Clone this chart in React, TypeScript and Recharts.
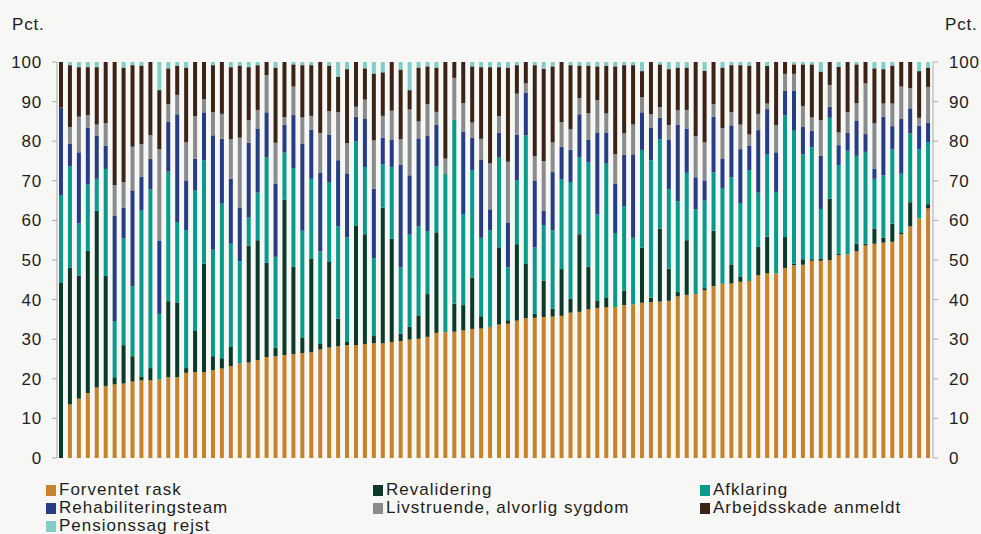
import { Bar, BarChart, XAxis, YAxis } from 'recharts'

const forventetRask = [
  0, 13.5, 15, 16.4, 17.8, 18.2, 18.6, 18.8, 19.3, 19.6, 19.6, 19.8,
  20.4, 20.4, 21.5, 21.7, 21.7, 22.2, 22.6, 23.2, 23.9, 24.1, 24.7, 25.5,
  25.7, 26, 26.2, 26.5, 26.7, 27.4, 27.9, 28.2, 28.5, 28.5, 28.8, 29, 29,
  29.3, 29.5, 29.9, 30.1, 30.6, 31.6, 31.8, 31.9, 32.2, 32.6, 32.7, 33.1,
  33.7, 33.9, 34.7, 35.3, 35.4, 35.6, 35.7, 35.9, 36.7, 36.9, 37.6, 37.9,
  38.1, 38.1, 38.6, 38.8, 39.2, 39.4, 39.5, 39.7, 40.8, 41.2, 41.4, 42.4,
  43.4, 44, 44.1, 44.5, 44.7, 46.2, 46.6, 46.6, 48, 48.7, 48.8, 49.8, 49.8,
  50, 51.2, 51.4, 52.2, 53.7, 54.1, 54.4, 54.6, 56.5, 58.5, 60.5, 63,
]

const revalidering = [
  44.2, 34.5, 31, 35.9, 44.6, 27.8, 1.8, 9.7, 6.4, 1, 3.1, 0,
  19.2, 18.9, 1.2, 10.4, 27.4, 3.5, 2.6, 5, 0, 29.5, 30.3, 23.8,
  2.1, 39.2, 22.1, 3.8, 23.7, 1.4, 21.6, 7, 0.8, 30.1, 27.7, 1.8, 34.2,
  26.1, 1.9, 3.2, 5.9, 10.8, 25.4, 0, 7.1, 6.4, 12.9, 3.1, 0,
  19.5, 0.9, 19.3, 13.7, 1, 9.2, 2, 11.8, 3.5, 19.6, 10.7, 1.9,
  2.3, 0, 3.7, 0, 13.9, 1.1, 18.4, 8.1, 1.1, 13.8, 0, 0.5,
  14, 0, 4.8, 1.2, 0, 7.1, 9.3, 0, 7.8, 0.4, 1.4, 0.4, 0.6,
  15.5, 0.3, 0, 1.9, 0.4, 3.8, 1.2, 4.6, 0.5, 6.1, 0, 1.1,
]

const afklaring = [
  22.2, 25.7, 13.2, 16.8, 8.1, 27, 14.2, 27, 17.7, 42, 45.1, 16.6,
  32.7, 20.3, 34.8, 35.4, 26.1, 26.9, 39.1, 25.9, 25.8, 7.1, 12, 26.6,
  23, 11.9, 24.9, 27.1, 20.1, 23.4, 20.2, 23.3, 26.4, 21.3, 17, 19.6, 10.9,
  18.1, 16.7, 23.3, 22.5, 15.9, 16.7, 39.9, 46.4, 23, 27.2, 19.8, 24.4,
  22.8, 13.4, 16.1, 32.5, 16.8, 14, 19.8, 22.7, 29.5, 19.5, 26.3, 21.7,
  34.1, 18.7, 21.3, 16.8, 24.7, 34.7, 22.6, 20.1, 22.9, 17, 21.4, 22.1,
  14.7, 24.2, 22, 18.7, 28, 13.7, 20.7, 20.6, 30.7, 33.7, 26.5, 28.3, 12.5,
  20.4, 22.5, 26.2, 22.2, 23.2, 12.6, 15.8, 18.7, 14.8, 17.4, 17.5, 15.7,
]

const rehabiliteringsteam = [
  22.1, 5.7, 18, 14.3, 10.9, 5.9, 26.6, 7.7, 24.2, 8.4, 7.8, 18.4,
  12.6, 27.2, 12.6, 8.1, 12.1, 28.9, 16.3, 16.4, 13.6, 18.9, 16.1, 11.4,
  18.4, 7.1, 13.4, 22, 12.4, 19.9, 12, 16.7, 16.2, 6.3, 12.1, 17.6, 6.8,
  6.8, 25.9, 15, 22.2, 24, 10.4, 0, 0, 20.8, 8.2, 19.8, 5.3,
  6.2, 11.3, 11.6, 10.8, 16.9, 3.6, 14.7, 8.2, 8.1, 10.8, 5.8, 20.7,
  7.7, 12.4, 13, 21.1, 9.5, 8.3, 5.4, 12.4, 19.4, 11.2, 8.1, 5.1,
  14.1, 7.3, 13.1, 13.6, 6.1, 15.8, 11.5, 10, 6.2, 10, 6.9, 4.1, 13.4,
  2.8, 5, 4.6, 8.8, 4.5, 2.6, 14.8, 5.9, 13.8, 6.3, 5.9, 4.9,
]

const livstruende = [
  0, 4.2, 9, 3.2, 2.8, 5.7, 7.7, 6.5, 11, 8.3, 5.9, 23.2,
  4.5, 4.9, 9.6, 10.7, 3.3, 5.8, 6.3, 10, 17.6, 5.7, 4.8, 9.4,
  10.4, 1.9, 7.2, 6.6, 3.5, 10, 5.9, 12.1, 7.6, 2.5, 4.9, 12.2, 5.5,
  7.4, 6.5, 16.6, 4.3, 8.1, 3.3, 3.9, 10.6, 7.2, 3.8, 5.2, 11.6,
  4.1, 15.3, 10.3, 2.3, 6.1, 12.6, 7.5, 6.2, 5.2, 4.1, 6.7, 8.2,
  4.8, 7.5, 5.4, 7.5, 3.8, 3.3, 2.7, 3.8, 3.6, 4.7, 10.4, 9.6,
  3.2, 7.8, 3.3, 6.2, 2.9, 4.1, 1.4, 6.9, 4.3, 4.2, 5.3, 3.4, 9,
  5.5, 3.2, 5.1, 4.5, 12.8, 11.4, 3.3, 5.7, 8.2, 5.1, 2, 9,
]

const arbejdsskade = [
  11.5, 15.6, 12.5, 12.1, 14.5, 15.4, 31.1, 28.9, 20.6, 19.8, 18.5, 14.9,
  9, 7.4, 18.9, 13.7, 9.4, 11.9, 13.1, 18.2, 18.2, 13.4, 11.3, 3.3,
  19, 13.9, 5.6, 13.2, 12.8, 17.9, 11.5, 9, 18.7, 11.3, 7.9, 16.9, 11,
  12.3, 17.6, 4.9, 13.6, 9.5, 11.2, 24.4, 4, 10.4, 14.2, 18.1, 24.3,
  12.4, 23.8, 7.2, 5.4, 23, 23.3, 19.2, 15.2, 16.2, 8.2, 12, 8.5,
  12.1, 22.2, 17.2, 15, 6.6, 13.2, 10.8, 14.1, 10.8, 10.7, 18.7, 18.1,
  10.6, 15.3, 11.9, 15, 17.4, 13.1, 9.5, 15.9, 3, 2.4, 10.5, 13.4, 12.3,
  5.8, 16.6, 12.7, 9.8, 5.4, 13.9, 8.7, 9.6, 6.2, 6.6, 11.8, 4.9,
]

const pensionssag = [
  0, 0.8, 1.3, 1.3, 1.3, 0, 0, 1.4, 0.8, 0.9, 0, 7.1,
  1.6, 0.9, 1.4, 0, 0, 0.8, 0, 1.3, 0.9, 1.3, 0.8, 0,
  1.4, 0, 0.6, 0.8, 0.8, 0, 0.9, 3.7, 1.8, 0, 1.6, 2.9, 2.6,
  0, 1.9, 7.1, 1.4, 1.1, 1.4, 0, 0, 0, 1.1, 1.3, 1.3,
  1.3, 1.4, 0.8, 0, 0.8, 1.7, 1.1, 0, 0.8, 0.9, 0.9, 1.1,
  0.9, 1.1, 0.8, 0.8, 2.3, 0, 0.6, 1.8, 1.4, 1.4, 0, 2.2,
  0, 1.4, 0.8, 0.8, 0.9, 0, 1, 0, 0, 0.6, 0.6, 0.6, 2.4,
  0, 1.2, 0, 0.6, 0, 1.6, 1.8, 0.9, 0, 0, 2.3, 1.4,
]

const yTicks = [0, 10, 20, 30, 40, 50, 60, 70, 80, 90, 100]

const series = [
  { key: 'forventet', name: 'Forventet rask', values: forventetRask, color: '#c7822b' },
  { key: 'revalidering', name: 'Revalidering', values: revalidering, color: '#0b3b28' },
  { key: 'afklaring', name: 'Afklaring', values: afklaring, color: '#089a8a' },
  { key: 'rehab', name: 'Rehabiliteringsteam', values: rehabiliteringsteam, color: '#263d86' },
  { key: 'livstruende', name: 'Livstruende, alvorlig sygdom', values: livstruende, color: '#898b8d' },
  { key: 'arbejdsskade', name: 'Arbejdsskade anmeldt', values: arbejdsskade, color: '#3b2416' },
  { key: 'pension', name: 'Pensionssag rejst', values: pensionssag, color: '#7fcfc8' },
]

const data = forventetRask.map((_, i) => {
  const row: Record<string, number> = { id: i + 1 }
  series.forEach((s) => {
    row[s.key] = s.values[i]
  })
  return row
})

const textColor = '#1e1e1e'
const axisColor = '#a9a9a9'
const tickStyle = { fontSize: 17, fill: textColor, letterSpacing: 0.8 }

function LegendBlock() {
  return (
    <div
      style={{
        position: 'absolute',
        left: 46,
        top: 481,
        width: 900,
        display: 'grid',
        gridTemplateColumns: '327px 327px 246px',
        fontSize: 17,
        letterSpacing: 1,
        lineHeight: '18px',
        color: textColor,
      }}
    >
      {series.map((s) => (
        <div key={s.key} style={{ display: 'flex', alignItems: 'center' }}>
          <span
            style={{
              display: 'inline-block',
              width: 10,
              height: 11,
              background: s.color,
              marginRight: 3,
            }}
          />
          <span>{s.name}</span>
        </div>
      ))}
    </div>
  )
}

export default function App() {
  return (
    <div
      style={{
        position: 'absolute',
        top: 0,
        left: 0,
        width: 981,
        height: 534,
        background: '#f7f7f5',
        fontFamily: '"Liberation Sans", Arial, sans-serif',
        overflow: 'hidden',
      }}
    >
      <div style={{ position: 'absolute', left: 12, top: 15, fontSize: 17, letterSpacing: 0.8, color: textColor }}>
        Pct.
      </div>
      <div style={{ position: 'absolute', left: 945, top: 15, fontSize: 17, letterSpacing: 0.8, color: textColor }}>
        Pct.
      </div>
      <BarChart
        width={981}
        height={470}
        data={data}
        margin={{ top: 62, right: 0, left: 0, bottom: 12 }}
        barSize={4}
      >
        <XAxis dataKey="id" hide />
        <YAxis
          yAxisId="left"
          orientation="left"
          width={57}
          domain={[0, 100]}
          allowDataOverflow
          ticks={yTicks}
          interval={0}
          tick={tickStyle}
          tickSize={5}
          tickMargin={10}
          axisLine={{ stroke: axisColor }}
          tickLine={{ stroke: axisColor }}
        />
        <YAxis
          yAxisId="right"
          orientation="right"
          width={48}
          domain={[0, 100]}
          allowDataOverflow
          ticks={yTicks}
          interval={0}
          tick={tickStyle}
          tickSize={5}
          tickMargin={11}
          axisLine={{ stroke: axisColor }}
          tickLine={{ stroke: axisColor }}
        />
        {series.map((s) => (
          <Bar
            key={s.key}
            yAxisId="left"
            dataKey={s.key}
            name={s.name}
            stackId="a"
            fill={s.color}
            isAnimationActive={false}
          />
        ))}
      </BarChart>
      <LegendBlock />
    </div>
  )
}
